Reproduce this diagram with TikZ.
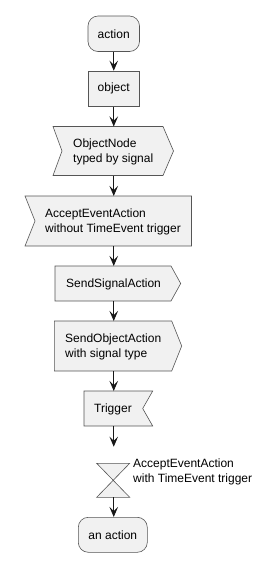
\documentclass[tikz,border=0pt]{standalone}
\usepackage{fontspec}
\setmainfont{Liberation Sans}
\usetikzlibrary{arrows.meta}
\definecolor{boxfill}{HTML}{F1F1F1}
\definecolor{boxline}{HTML}{555555}
\definecolor{arrowcol}{HTML}{181818}
\begin{document}
\begin{tikzpicture}[x=1pt,y=-1pt,
  shapeline/.style={draw=boxline,fill=boxfill,line width=0.6pt,line join=miter},
  lbl/.style={inner sep=0pt,font=\fontsize{12}{15}\selectfont,align=left},
  flow/.style={draw=arrowcol,line width=0.9pt,-{Stealth[length=10pt,width=8.5pt,inset=4pt]}},
  actbox/.style={shapeline,rounded corners=10pt,inner sep=0pt,font=\fontsize{12}{15}\selectfont},
  objbox/.style={shapeline,inner sep=0pt,font=\fontsize{12}{15}\selectfont}
]
\useasboundingbox (0,0) rectangle (272,571);

% action
\node[actbox,minimum width=51.5pt,minimum height=35.5pt] (action) at (113.75,33.75) {action};
% object
\node[objbox,minimum width=51.5pt,minimum height=35.5pt] (object) at (113.75,88.75) {object};

% ObjectNode typed by signal
\draw[shapeline] (53,126.5) -- (163,126.5) -- (173.5,151) -- (163,175.5) -- (53,175.5) -- (62,151) -- cycle;
\coordinate (on-n) at (113.75,126.5);
\coordinate (on-s) at (113.75,175.5);
\node[lbl,anchor=west] (on) at (73,152) {ObjectNode\\typed by signal};

% AcceptEventAction without TimeEvent trigger
\draw[shapeline] (25,196) -- (191.5,196) -- (191.5,246) -- (25,246) -- (35,221) -- cycle;
\coordinate (ae-n) at (113.75,196);
\coordinate (ae-s) at (113.75,246);
\node[lbl,anchor=west] (ae) at (45,222) {AcceptEventAction\\without TimeEvent trigger};

% SendSignalAction
\draw[shapeline] (55,266) -- (171,266) -- (180.7,283.5) -- (171,301) -- (55,301) -- cycle;
\coordinate (ss-n) at (113.75,266);
\coordinate (ss-s) at (113.75,301);
\node[lbl,anchor=west] (ss) at (66,284) {SendSignalAction};

% SendObjectAction with signal type
\draw[shapeline] (54.3,321) -- (171.7,321) -- (181.7,346) -- (171.7,371) -- (54.3,371) -- cycle;
\coordinate (so-n) at (113.75,321);
\coordinate (so-s) at (113.75,371);
\node[lbl,anchor=west] (so) at (65,347) {SendObjectAction\\with signal type};

% Trigger
\draw[shapeline] (84,391) -- (152.7,391) -- (142.7,408.5) -- (152.7,426) -- (84,426) -- cycle;
\coordinate (tr-n) at (113.75,391);
\coordinate (tr-s) at (113.75,426);
\node[lbl,anchor=west] (tr) at (94,409) {Trigger};

\coordinate (free) at (113.75,446.7);

% hourglass (AcceptEventAction with TimeEvent trigger)
\draw[shapeline] (96.7,463.3) -- (129.7,463.3) -- (96.7,497.3) -- (129.7,497.3) -- cycle;
\coordinate (hg-n) at (113.2,463.3);
\coordinate (hg-s) at (113.75,497.3);
\node[lbl,anchor=west] (hg) at (133,472) {AcceptEventAction\\with TimeEvent trigger};

% an action
\node[actbox,minimum width=69pt,minimum height=35pt] (an) at (112.8,534.8) {an action};

% connectors
\draw[flow] (action.south) -- (object.north);
\draw[flow] (object.south) -- (on-n);
\draw[flow] (on-s) -- (ae-n);
\draw[flow] (ae-s) -- (ss-n);
\draw[flow] (ss-s) -- (so-n);
\draw[flow] (so-s) -- (tr-n);
\draw[flow] (tr-s) -- (free);
\draw[flow] (hg-s) -- (an.north -| hg-s);
\end{tikzpicture}
\end{document}
